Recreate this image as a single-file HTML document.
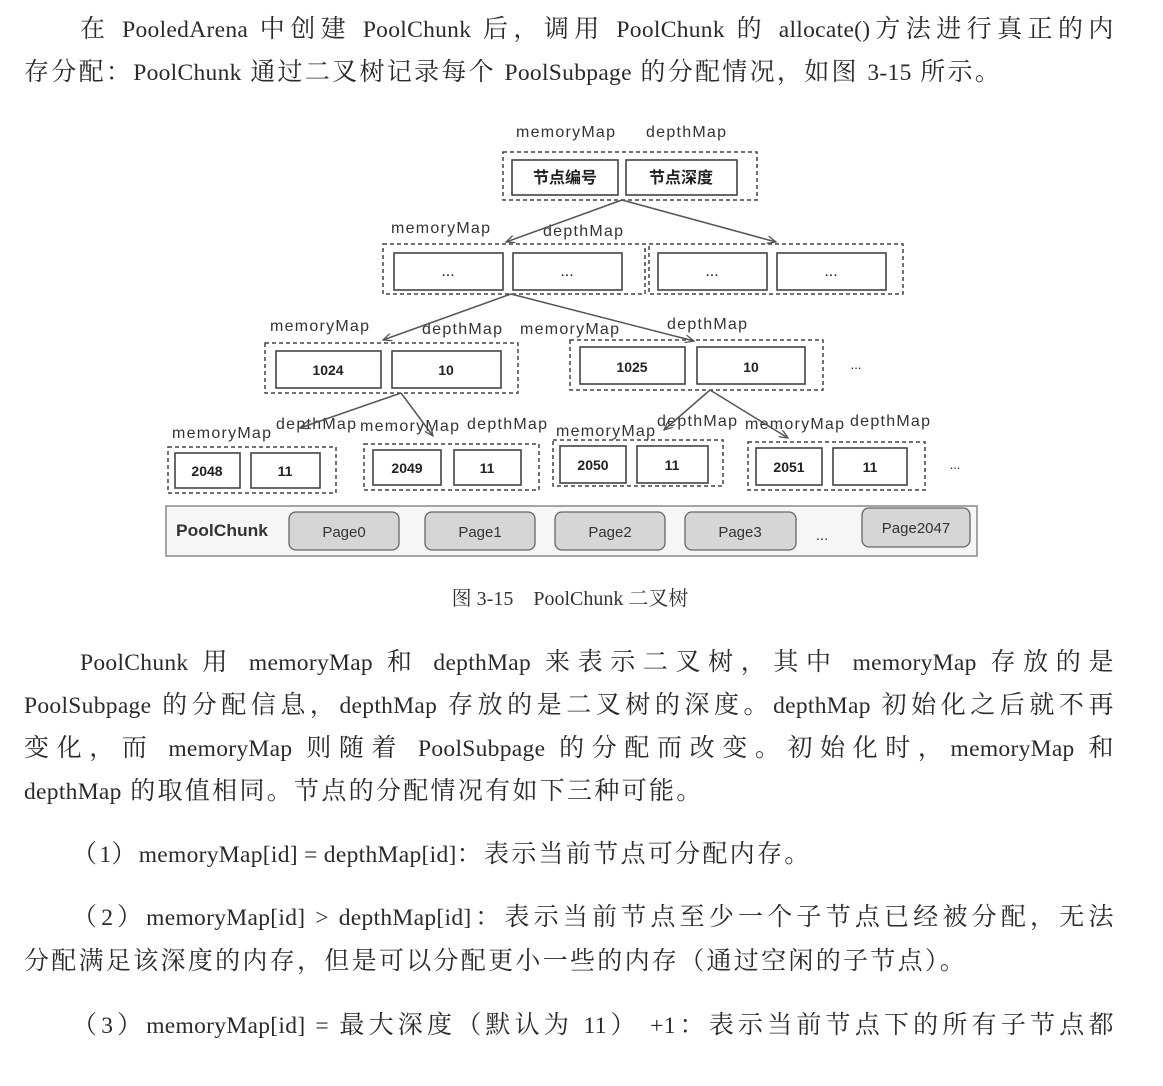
<!DOCTYPE html>
<html><head><meta charset="utf-8">
<style>
html,body{margin:0;padding:0;background:#fff;}
body{width:1163px;height:1086px;position:relative;overflow:hidden;}
.t{position:absolute;font-family:"Liberation Serif","Noto Serif CJK SC",serif;font-size:25px;letter-spacing:2.3px;color:#2a2a2a;white-space:nowrap;line-height:30px;}
.t b{font-weight:normal;font-size:23.5px;letter-spacing:0.3px;}
.j{text-align:justify;text-align-last:justify;white-space:normal;letter-spacing:0.5px;}
svg text{font-family:"Liberation Sans","Noto Sans CJK SC",sans-serif;}
</style></head><body>
<div class="t j" style="left:80px;top:15px;width:1034px;">在 <b>PooledArena</b> 中创建 <b>PoolChunk</b> 后，调用 <b>PoolChunk</b> 的 <b>allocate()</b>方法进行真正的内</div>
<div class="t" style="left:24px;top:58px;">存分配：<b>PoolChunk</b> 通过二叉树记录每个 <b>PoolSubpage</b> 的分配情况，如图 <b>3-15</b> 所示。</div>

<svg style="position:absolute;left:0;top:0" width="1163" height="620">
<defs><marker id="a" markerWidth="10" markerHeight="8" refX="9" refY="4" orient="auto" markerUnits="userSpaceOnUse"><path d="M0,0 L9,4 L0,8" fill="none" stroke="#555" stroke-width="1.3"/></marker></defs>
<g font-size="16" fill="#333" lengthAdjust="spacingAndGlyphs">
<text x="516" y="137" textLength="99">memoryMap</text><text x="646" y="137" textLength="80">depthMap</text>
<text x="391" y="233" textLength="99">memoryMap</text><text x="543" y="236" textLength="80">depthMap</text>
<text x="270" y="331" textLength="99">memoryMap</text><text x="422" y="334" textLength="80">depthMap</text><text x="520" y="334" textLength="99">memoryMap</text><text x="667" y="329" textLength="80">depthMap</text>
<text x="172" y="438" textLength="99">memoryMap</text><text x="276" y="429" textLength="80">depthMap</text><text x="360" y="431" textLength="99">memoryMap</text><text x="467" y="429" textLength="80">depthMap</text>
<text x="556" y="436" textLength="99">memoryMap</text><text x="657" y="426" textLength="80">depthMap</text><text x="745" y="429" textLength="99">memoryMap</text><text x="850" y="426" textLength="80">depthMap</text>
</g>
<g fill="none" stroke="#444" stroke-width="1.5" stroke-dasharray="4,3">
<rect x="503" y="152" width="254" height="48"/>
<rect x="383" y="244" width="262" height="50"/><rect x="649" y="244" width="254" height="50"/>
<rect x="265" y="343" width="253" height="50"/><rect x="570" y="340" width="253" height="50"/>
<rect x="168" y="447" width="168" height="46"/><rect x="364" y="444" width="175" height="46"/>
<rect x="553" y="440" width="170" height="46"/><rect x="748" y="442" width="177" height="48"/>
</g>
<g fill="#fff" stroke="#444" stroke-width="1.6">
<rect x="512" y="160" width="106" height="35"/><rect x="626" y="160" width="111" height="35"/>
<rect x="394" y="253" width="109" height="37"/><rect x="513" y="253" width="109" height="37"/>
<rect x="658" y="253" width="109" height="37"/><rect x="777" y="253" width="109" height="37"/>
<rect x="276" y="351" width="105" height="37"/><rect x="392" y="351" width="109" height="37"/>
<rect x="580" y="347" width="105" height="37"/><rect x="697" y="347" width="108" height="37"/>
<rect x="175" y="453" width="65" height="35"/><rect x="251" y="453" width="69" height="35"/>
<rect x="373" y="450" width="68" height="35"/><rect x="454" y="450" width="67" height="35"/>
<rect x="560" y="446" width="66" height="37"/><rect x="637" y="446" width="71" height="37"/>
<rect x="756" y="448" width="66" height="37"/><rect x="833" y="448" width="74" height="37"/>
</g>
<g stroke="#555" stroke-width="1.5" marker-end="url(#a)">
<line x1="622" y1="200" x2="506" y2="242"/><line x1="622" y1="200" x2="776" y2="242"/>
<line x1="511" y1="294" x2="383" y2="340"/><line x1="511" y1="294" x2="694" y2="341"/>
<line x1="401" y1="393" x2="300" y2="428"/><line x1="401" y1="393" x2="433" y2="436"/>
<line x1="710" y1="390" x2="664" y2="430"/><line x1="710" y1="390" x2="788" y2="438"/>
</g>
<g font-size="16" font-weight="bold" fill="#222" text-anchor="middle">
<text x="565" y="183">节点编号</text><text x="681" y="183">节点深度</text>
<text x="448" y="276" font-weight="normal">...</text><text x="567" y="276" font-weight="normal">...</text>
<text x="712" y="276" font-weight="normal">...</text><text x="831" y="276" font-weight="normal">...</text>
<text x="328" y="375" font-size="14">1024</text><text x="446" y="375" font-size="14">10</text>
<text x="632" y="372" font-size="14">1025</text><text x="751" y="372" font-size="14">10</text>
<text x="207" y="476" font-size="14">2048</text><text x="285" y="476" font-size="14">11</text>
<text x="407" y="473" font-size="14">2049</text><text x="487" y="473" font-size="14">11</text>
<text x="593" y="470" font-size="14">2050</text><text x="672" y="470" font-size="14">11</text>
<text x="789" y="472" font-size="14">2051</text><text x="870" y="472" font-size="14">11</text>
<text x="856" y="369" font-weight="normal" font-size="13">...</text><text x="955" y="469" font-weight="normal" font-size="13">...</text>
</g>
<rect x="166" y="506" width="811" height="50" fill="#f6f6f6" stroke="#888" stroke-width="1.5"/>
<text x="176" y="536" font-size="17" font-weight="bold" fill="#333" textLength="92" lengthAdjust="spacingAndGlyphs">PoolChunk</text>
<g fill="#d6d6d6" stroke="#666" stroke-width="1.3">
<rect x="289" y="512" width="110" height="38" rx="7"/><rect x="425" y="512" width="110" height="38" rx="7"/>
<rect x="555" y="512" width="110" height="38" rx="7"/><rect x="685" y="512" width="111" height="38" rx="7"/>
<rect x="862" y="508" width="108" height="39" rx="7"/>
</g>
<g font-size="15" fill="#333" text-anchor="middle">
<text x="344" y="537">Page0</text><text x="480" y="537">Page1</text><text x="610" y="537">Page2</text><text x="740" y="537">Page3</text><text x="916" y="533">Page2047</text><text x="822" y="540">...</text>
</g>
<text x="570" y="605" font-size="20" fill="#333" text-anchor="middle" style="font-family:'Liberation Serif','Noto Serif CJK SC',serif">图 3-15　PoolChunk 二叉树</text>
</svg>

<div class="t j" style="left:80px;top:648px;width:1034px;"><b>PoolChunk</b> 用 <b>memoryMap</b> 和 <b>depthMap</b> 来表示二叉树，其中 <b>memoryMap</b> 存放的是</div>
<div class="t j" style="left:24px;top:691px;width:1090px;"><b>PoolSubpage</b> 的分配信息，<b>depthMap</b> 存放的是二叉树的深度。<b>depthMap</b> 初始化之后就不再</div>
<div class="t j" style="left:24px;top:734px;width:1090px;">变化，而 <b>memoryMap</b> 则随着 <b>PoolSubpage</b> 的分配而改变。初始化时，<b>memoryMap</b> 和</div>
<div class="t" style="left:24px;top:777px;"><b>depthMap</b> 的取值相同。节点的分配情况有如下三种可能。</div>
<div class="t" style="left:72px;top:840px;">（<b>1</b>）<b>memoryMap[id] = depthMap[id]</b>：表示当前节点可分配内存。</div>
<div class="t j" style="left:72px;top:903px;width:1042px;">（<b>2</b>）<b>memoryMap[id] &gt; depthMap[id]</b>：表示当前节点至少一个子节点已经被分配，无法</div>
<div class="t" style="left:24px;top:947px;">分配满足该深度的内存，但是可以分配更小一些的内存（通过空闲的子节点）。</div>
<div class="t j" style="left:72px;top:1011px;width:1042px;">（<b>3</b>）<b>memoryMap[id] =</b> 最大深度（默认为 <b>11</b>） <b>+1</b>：表示当前节点下的所有子节点都</div>
</body></html>
